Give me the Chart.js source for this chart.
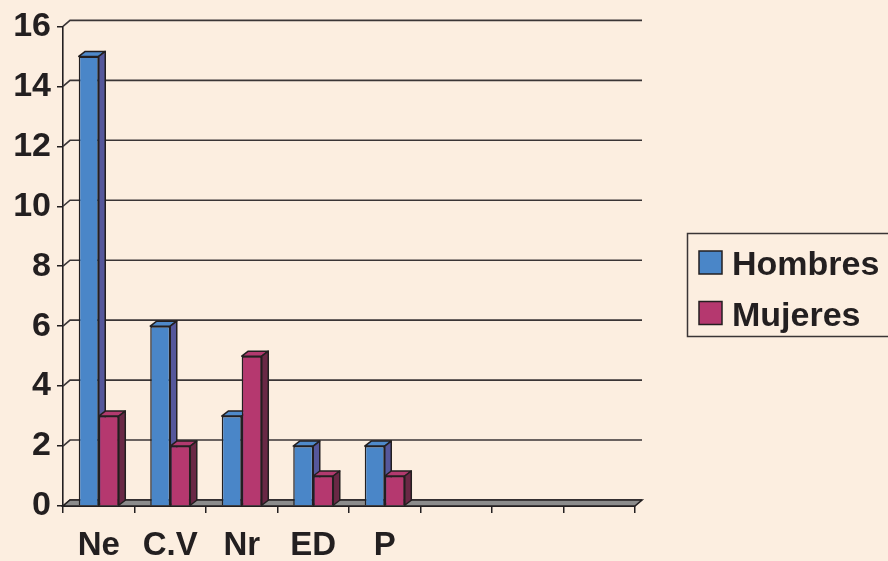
<!DOCTYPE html>
<html>
<head>
<meta charset="utf-8">
<script src="https://cdn.jsdelivr.net/npm/chart.js@4/dist/chart.umd.min.js"></script>
<style>
  html, body { margin: 0; padding: 0; background: #FCEEE0; }
  canvas { display: block; }
</style>
</head>
<body>
<canvas id="c" width="888" height="561"></canvas>
<script>
// Categories along the floor (three trailing slots are empty)
const categories = ['Ne', 'C.V', 'Nr', 'ED', 'P', '', '', ''];
// Counts per category
const hombres = [15, 6, 3, 2, 2, null, null, null];
const mujeres = [3, 2, 5, 1, 1, null, null, null];
const seriesNames = ['Hombres', 'Mujeres'];
// Value axis
const yMin = 0;
const yMax = 16;
const yStep = 2;

const INK = '#231F20';
const FONT = '"Liberation Sans", Arial, sans-serif';
const colors = {
  Hombres: { front: '#4A86C8', top: '#4F8ACB', side: '#55579B' },
  Mujeres: { front: '#B5386F', top: '#B23A6F', side: '#692845' }
};
const WALL = { x: 7, y: -6 };   // depth of back wall / floor
const BAR = { x: 6.5, y: -5 };  // depth of each bar

function poly(ctx, pts, fill, stroke, lw) {
  ctx.beginPath();
  ctx.moveTo(pts[0][0], pts[0][1]);
  for (let i = 1; i < pts.length; i++) ctx.lineTo(pts[i][0], pts[i][1]);
  ctx.closePath();
  if (fill) { ctx.fillStyle = fill; ctx.fill(); }
  if (stroke) { ctx.strokeStyle = stroke; ctx.lineWidth = lw; ctx.stroke(); }
}

// Back wall gridlines and grey floor
const wallPlugin = {
  id: 'wall3d',
  beforeDatasetsDraw(chart) {
    const { ctx, chartArea: a, scales } = chart;
    const ys = scales.y;
    ctx.save();
    ctx.strokeStyle = '#3A3536';
    ctx.lineWidth = 1.6;
    ys.ticks.forEach(t => {
      const y = ys.getPixelForValue(t.value);
      ctx.beginPath();
      ctx.moveTo(a.left, y);
      ctx.lineTo(a.left + WALL.x, y + WALL.y);
      ctx.lineTo(a.right + WALL.x, y + WALL.y);
      ctx.stroke();
    });
    const b = ys.getPixelForValue(yMin);
    poly(ctx, [[a.left, b], [a.right, b], [a.right + WALL.x, b + WALL.y], [a.left + WALL.x, b + WALL.y]],
      '#8C8C8C', INK, 1.6);
    ctx.restore();
  }
};

// Top and side faces of each bar; series are stacked front-to-back left to right,
// so each later series' front faces are redrawn over the earlier series' sides.
function drawFaces(ctx, chart, index) {
  const ds = chart.data.datasets[index];
  const c = colors[ds.label];
  chart.getDatasetMeta(index).data.forEach((el, i) => {
    if (ds.data[i] == null) return;
    const p = el.getProps(['x', 'y', 'base', 'width'], true);
    const l = p.x - p.width / 2, r = p.x + p.width / 2;
    poly(ctx, [[l, p.y], [r, p.y], [r + BAR.x, p.y + BAR.y], [l + BAR.x, p.y + BAR.y]], c.top, INK, 1.5);
    poly(ctx, [[r, p.y], [r + BAR.x, p.y + BAR.y], [r + BAR.x, p.base + BAR.y], [r, p.base]], c.side, INK, 1.5);
  });
}
const barPlugin = {
  id: 'bar3d',
  afterDatasetsDraw(chart) {
    const { ctx, chartArea: a } = chart;
    ctx.save();
    ctx.lineJoin = 'round';
    chart.data.datasets.forEach((ds, idx) => {
      if (idx > 0) {
        chart.getDatasetMeta(idx).data.forEach((el, i) => {
          if (ds.data[i] != null) el.draw(ctx, a);
        });
      }
      drawFaces(ctx, chart, idx);
    });
    ctx.restore();
  }
};

// Boxed legend to the right of the plot
const legendPlugin = {
  id: 'boxLegend',
  afterDraw(chart) {
    const { ctx } = chart;
    ctx.save();
    ctx.strokeStyle = '#3A3536';
    ctx.lineWidth = 1.5;
    ctx.strokeRect(687.5, 233.5, 220, 103);
    ctx.font = 'bold 34px ' + FONT;
    ctx.textBaseline = 'alphabetic';
    ctx.textAlign = 'left';
    seriesNames.forEach((name, i) => {
      const top = 251 + i * 50.5;
      ctx.fillStyle = colors[name].front;
      ctx.fillRect(699, top, 23, 23);
      ctx.strokeStyle = INK;
      ctx.lineWidth = 1.5;
      ctx.strokeRect(699, top, 23, 23);
      ctx.fillStyle = INK;
      ctx.fillText(name, 732, top + 24);
    });
    ctx.restore();
  }
};

new Chart(document.getElementById('c'), {
  type: 'bar',
  data: {
    labels: categories,
    datasets: [
      { label: seriesNames[0], data: hombres,
        backgroundColor: colors.Hombres.front, borderColor: INK, borderWidth: 1.5,
        barPercentage: 1, categoryPercentage: 0.56 },
      { label: seriesNames[1], data: mujeres,
        backgroundColor: colors.Mujeres.front, borderColor: INK, borderWidth: 1.5,
        barPercentage: 1, categoryPercentage: 0.56 }
    ]
  },
  options: {
    responsive: false,
    animation: false,
    devicePixelRatio: 1,
    layout: { padding: { left: 0, right: 253, top: 24, bottom: 0 } },
    plugins: { legend: { display: false }, tooltip: { enabled: false } },
    scales: {
      x: {
        afterFit(s) { s.height = 55; },
        border: { display: true, color: INK, width: 2 },
        grid: { display: true, drawOnChartArea: false, drawTicks: true, tickLength: 7, color: INK, lineWidth: 1.5, offset: true },
        ticks: { color: INK, font: { family: FONT, size: 33, weight: 'bold' }, padding: 13, maxRotation: 0, autoSkip: false }
      },
      y: {
        min: yMin, max: yMax,
        afterFit(s) { s.width = 63; },
        border: { display: true, color: INK, width: 1.6 },
        grid: { display: true, drawOnChartArea: false, drawTicks: true, tickLength: 6, color: INK, lineWidth: 1.5 },
        ticks: { stepSize: yStep, color: INK, font: { family: FONT, size: 34, weight: 'bold' }, padding: 6 }
      }
    }
  },
  plugins: [wallPlugin, barPlugin, legendPlugin]
});
</script>
</body>
</html>
